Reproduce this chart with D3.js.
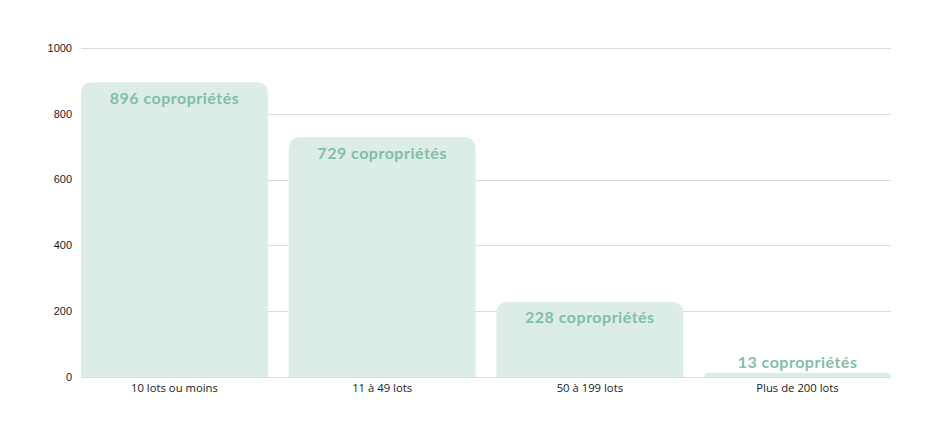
<!DOCTYPE html>
<html><head><meta charset="utf-8">
<script src="https://cdn.jsdelivr.net/npm/d3@7"></script>
<style>body{margin:0;background:#fff}svg{display:block}</style>
</head><body>
<svg id="c" width="935" height="437"></svg>
<script>
const categories = ["10 lots ou moins", "11 à 49 lots", "50 à 199 lots", "Plus de 200 lots"];
const values = [896, 729, 228, 13];
const yTicks = [0, 200, 400, 600, 800, 1000];
const labelSuffix = " copropriétés";

const svg = d3.select("#c");
const x = d3.scaleBand().domain(categories).range([81, 891]).paddingInner(0.1).paddingOuter(0);
const y = d3.scaleLinear().domain([0, 1000]).range([377, 48]);

svg.append("g").selectAll("line").data(yTicks).join("line")
  .attr("x1", 81).attr("x2", 891)
  .attr("y1", d => Math.round(y(d)) + 0.5).attr("y2", d => Math.round(y(d)) + 0.5)
  .attr("stroke", "#dcdcdc").attr("stroke-width", 1);

svg.append("g").selectAll("text").data(yTicks).join("text")
  .attr("x", 72).attr("y", d => y(d)).attr("dy", "0.35em")
  .attr("text-anchor", "end")
  .style("font-family", "Liberation Sans, Arial, sans-serif").style("font-size", "11px").attr("fill", "#222")
  .text(d => d);

const r = 12;
function barPath(d, i) {
  const x0 = x(categories[i]), w = x.bandwidth(), y0 = y(0), yt = y(d);
  const rr = Math.min(r, (y0 - yt));
  return `M${x0},${y0}V${yt + rr}Q${x0},${yt} ${x0 + rr},${yt}H${x0 + w - rr}Q${x0 + w},${yt} ${x0 + w},${yt + rr}V${y0}Z`;
}
svg.append("g").selectAll("path").data(values).join("path")
  .attr("d", barPath).attr("fill", "#dbede6");

svg.append("g").selectAll("text").data(values).join("text")
  .attr("x", (d, i) => x(categories[i]) + x.bandwidth() / 2)
  .attr("y", d => Math.min(y(d) + 21.5, y(0) - 9.5))
  .attr("text-anchor", "middle")
  .style("font-family", "Lato, 'Open Sans', sans-serif").style("font-weight", "700").style("font-size", "16px")
  .style("letter-spacing", "0.5px")
  .attr("fill", "#82bfa4")
  .text(d => d + labelSuffix);

svg.append("g").selectAll("text").data(categories).join("text")
  .attr("x", d => x(d) + x.bandwidth() / 2).attr("y", 392)
  .attr("text-anchor", "middle")
  .style("font-family", "'Open Sans', sans-serif").style("font-size", "11.3px").attr("fill", "#222")
  .text(d => d);
</script>
</body></html>
